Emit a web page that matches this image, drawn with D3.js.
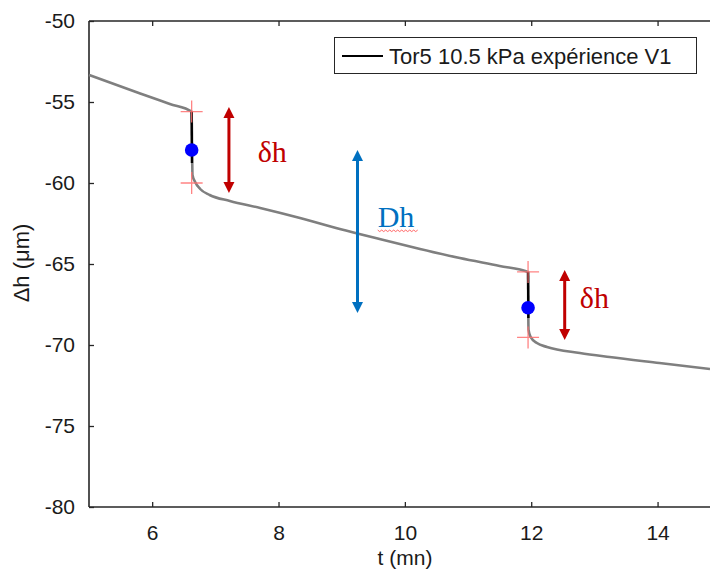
<!DOCTYPE html>
<html><head><meta charset="utf-8">
<script src="https://cdn.jsdelivr.net/npm/d3@7"></script>
<style>body{margin:0;background:#fff}svg{display:block}</style>
</head><body>
<svg id="c" width="710" height="570"></svg>
<script>
// ---- data ----
const curveT = [5.00, 5.81, 6.28, 6.625, 6.632, 6.638, 6.68, 6.76, 6.91, 7.23, 7.71, 8.34, 8.97, 9.60, 10.24, 10.87, 11.50, 11.95, 11.953, 11.958, 11.99, 12.09, 12.25, 12.77, 13.24, 14.03, 14.83];
const curveH = [-53.33, -54.48, -55.12, -55.59, -57.96, -59.5, -59.94, -60.37, -60.74, -61.11, -61.54, -62.16, -62.84, -63.46, -64.07, -64.63, -65.12, -65.49, -67.7, -69.07, -69.5, -69.88, -70.12, -70.49, -70.74, -71.11, -71.48];
const jumpT = [6.625, 11.95];
const jumpTop = [-55.59, -65.49];
const jumpBlackEnd = [-58.77, -68.33];
const jumpMid = [-57.96, -67.70];
const jumpBottom = [-60.0, -69.53];
const xTicks = [6, 8, 10, 12, 14];
const yTicks = [-80, -75, -70, -65, -60, -55, -50];
const deltaArrowT = [7.215, 12.53];
const deltaArrowTop = [-55.31, -65.37];
const deltaArrowBottom = [-60.62, -69.69];
const deltaLabelT = [7.67, 12.77];
const deltaLabelH = [-58.70, -67.72];
const DhArrow = {t: 9.25, top: -57.96, bottom: -68.02, labelT: 9.57, labelH: -62.72};
const legendLabel = "Tor5 10.5 kPa expérience V1";

// ---- chart ----
const svg = d3.select("#c");
const x = d3.scaleLinear().domain([5, 14.83]).range([89, 710]);
const y = d3.scaleLinear().domain([-80, -50]).range([507, 21]);
const font = "'Liberation Sans', Arial, Helvetica, sans-serif";
const axisCol = "#262626";
const fmt = d => String(d);

// axes
const gx = svg.append("g").attr("transform", "translate(0,507)")
  .call(d3.axisBottom(x).tickValues(xTicks).tickSize(-5).tickPadding(18).tickFormat(fmt));
const gxTop = svg.append("g").attr("transform", "translate(0,21)")
  .call(d3.axisTop(x).tickValues(xTicks).tickSize(-5).tickFormat(""));
const gy = svg.append("g").attr("transform", "translate(89,0)")
  .call(d3.axisLeft(y).tickValues(yTicks).tickSize(-5).tickPadding(14).tickFormat(fmt));
[gx, gxTop, gy].forEach(g => {
  g.select(".domain").attr("stroke", axisCol).attr("stroke-width", 1.6);
  g.selectAll(".tick line").attr("stroke", axisCol).attr("stroke-width", 1.3);
  g.selectAll("text").attr("fill", "#1a1a1a").style("font-family", font).style("font-size", "21px");
});
gx.select(".domain").attr("d", "M89,0H710");
gxTop.select(".domain").attr("d", "M89,0H710");
gy.select(".domain").attr("d", "M0,21V507");

// axis labels
svg.append("text").attr("x", 405).attr("y", 565).attr("text-anchor", "middle")
  .style("font-family", font).style("font-size", "21px").attr("fill", "#1a1a1a").text("t (mn)");
svg.append("text").attr("transform", "translate(29,263) rotate(-90)").attr("text-anchor", "middle")
  .style("font-family", font).style("font-size", "22px").attr("fill", "#1a1a1a").text("Δh (μm)");

// curve
const pts = curveT.map((t, i) => [t, curveH[i]]);
const line = d3.line().x(d => x(d[0])).y(d => y(d[1])).curve(d3.curveMonotoneX);
svg.append("path").datum(pts).attr("d", line).attr("fill", "none")
  .attr("stroke", "#7f7f7f").attr("stroke-width", 2.6);

// black segments at jumps
jumpT.forEach((t, i) => {
  svg.append("line").attr("x1", x(t)).attr("x2", x(t) + 0.3).attr("y1", y(jumpTop[i])).attr("y2", y(jumpBlackEnd[i]))
    .attr("stroke", "#000").attr("stroke-width", 2.4);
});

// red plus markers
const plusPts = [];
jumpT.forEach((t, i) => { plusPts.push([t, jumpTop[i]]); plusPts.push([t, jumpBottom[i]]); });
plusPts.forEach(p => {
  const cx = x(p[0]), cy = y(p[1]);
  svg.append("path").attr("d", `M${cx-11},${cy}H${cx+11}M${cx},${cy-11}V${cy+11}`)
    .attr("stroke", "#ff6f6f").attr("stroke-opacity", 0.85).attr("stroke-width", 1.3).attr("fill", "none");
});

// blue dots
svg.selectAll("circle.dot").data(jumpT).enter().append("circle")
  .attr("cx", d => x(d)).attr("cy", (d, i) => y(jumpMid[i])).attr("r", 6.8).attr("fill", "#0000ff");

// double arrows
function dblArrow(px, y1, y2, col) {
  const hw = 5.5, hl = 11;
  svg.append("line").attr("x1", px).attr("x2", px).attr("y1", y1 + hl - 1).attr("y2", y2 - hl + 1)
    .attr("stroke", col).attr("stroke-width", 3);
  svg.append("path").attr("d", `M${px},${y1}L${px-hw},${y1+hl}L${px+hw},${y1+hl}Z`).attr("fill", col);
  svg.append("path").attr("d", `M${px},${y2}L${px-hw},${y2-hl}L${px+hw},${y2-hl}Z`).attr("fill", col);
}
const red = "#c00000", blue = "#0070c0";
deltaArrowT.forEach((t, i) => dblArrow(x(t), y(deltaArrowTop[i]), y(deltaArrowBottom[i]), red));
dblArrow(x(DhArrow.t), y(DhArrow.top), y(DhArrow.bottom), blue);

const serif = "'Liberation Serif', 'Times New Roman', Times, serif";
deltaLabelT.forEach((t, i) => {
  svg.append("text").attr("x", x(t)).attr("y", y(deltaLabelH[i]))
    .style("font-family", serif).style("font-size", "30px").attr("fill", red).text("δh");
});
svg.append("text").attr("x", x(DhArrow.labelT)).attr("y", y(DhArrow.labelH))
  .style("font-family", serif).style("font-size", "30px").attr("fill", blue).text("Dh");
// spell-check squiggle under Dh
{
  const bx = x(DhArrow.labelT), by = y(DhArrow.labelH) + 3;
  let d = `M${bx},${by}`;
  for (let k = 0; k < 20; k++) d += `L${bx + 2 * (k + 1)},${by + (k % 2 ? 0 : 1.5)}`;
  svg.append("path").attr("d", d).attr("fill", "none").attr("stroke", "#ff4040").attr("stroke-width", 0.8);
}

// legend
const lg = svg.append("g");
lg.append("rect").attr("x", 334.5).attr("y", 37.5).attr("width", 362).attr("height", 36)
  .attr("fill", "#fff").attr("stroke", "#262626").attr("stroke-width", 1);
lg.append("line").attr("x1", 342).attr("x2", 383).attr("y1", 56).attr("y2", 56).attr("stroke", "#000").attr("stroke-width", 2.2);
lg.append("text").attr("x", 389).attr("y", 63.5).style("font-family", font).style("font-size", "22px")
  .attr("fill", "#1a1a1a").text(legendLabel);
</script>
</body></html>
